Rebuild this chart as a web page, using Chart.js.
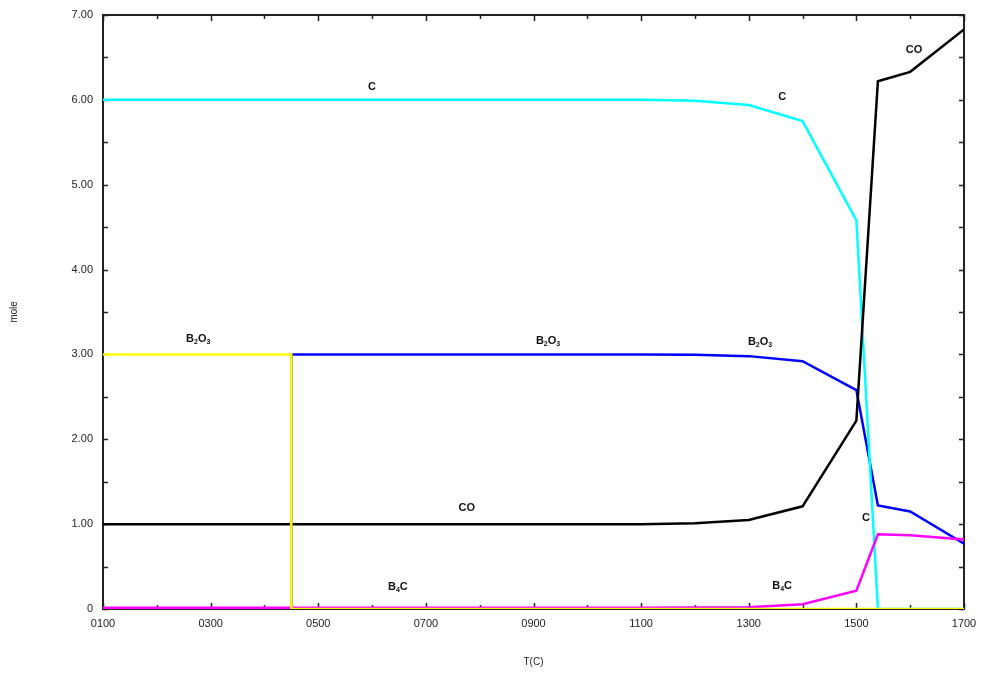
<!DOCTYPE html>
<html>
<head>
<meta charset="utf-8">
<script src="https://cdn.jsdelivr.net/npm/chart.js@4/dist/chart.umd.min.js"></script>
<style>
  html, body { margin: 0; padding: 0; background: #fff; }
  #wrap { width: 981px; height: 679px; }
</style>
</head>
<body>
<div id="wrap"><canvas id="chart" width="981" height="679"></canvas></div>
<script>
// temperatures (C); 450 appears twice for the B2O3 liquid -> solid jump
const temps = [100, 200, 300, 400, 450, 450, 500, 600, 700, 800, 900, 1000, 1100, 1200, 1300, 1400, 1500, 1540, 1600, 1700];

// mole values per species
const carbon   = [6, 6, 6, 6, 6, 6, 6, 6, 6, 6, 6, 6, 6, 5.99, 5.94, 5.75, 4.58, 0, 0, 0];
const b2o3Liq  = [3, 3, 3, 3, 3, 0, 0, 0, 0, 0, 0, 0, 0, 0, 0, 0, 0, 0, 0, 0];
const b2o3     = [0, 0, 0, 0, 0, 3, 3, 3, 3, 3, 3, 3, 3, 2.995, 2.98, 2.92, 2.58, 1.22, 1.15, 0.77];
const co       = [1, 1, 1, 1, 1, 1, 1, 1, 1, 1, 1, 1, 1, 1.01, 1.05, 1.21, 2.22, 6.22, 6.33, 6.83];
const b4c      = [0.015, 0.015, 0.015, 0.015, 0.015, 0.015, 0.015, 0.015, 0.015, 0.015, 0.015, 0.015, 0.015, 0.017, 0.02, 0.055, 0.215, 0.88, 0.87, 0.82];

// axis ticks
const xTickValues = [100, 300, 500, 700, 900, 1100, 1300, 1500, 1700];
const yTickValues = [0, 1, 2, 3, 4, 5, 6, 7];

// curve labels ("_n" = subscript n), anchored in data units
const labelText = ['C', 'C', 'CO', 'B_2O_3', 'B_2O_3', 'B_2O_3', 'CO', 'C', 'B_4C', 'B_4C'];
const labelT    = [600, 1362, 1607, 277, 927, 1321, 776, 1518, 648, 1362];
const labelMole = [6.15, 6.03, 6.59, 3.18, 3.16, 3.15, 1.19, 1.07, 0.26, 0.27];

const toPoints = (vals) => vals.map((v, i) => ({ x: temps[i], y: v }));

function lineSet(label, vals, color) {
  return {
    label,
    data: toPoints(vals),
    borderColor: color,
    backgroundColor: color,
    borderWidth: 2.5,
    pointRadius: 0,
    tension: 0,
    fill: false,
  };
}

// 枠線と内向きの目盛り
const framePlugin = {
  id: 'frame',
  beforeDatasetsDraw(chart) {
    const { ctx, chartArea: a, scales } = chart;
    ctx.save();
    ctx.strokeStyle = '#222';
    ctx.lineWidth = 2;
    ctx.strokeRect(a.left, a.top, a.right - a.left, a.bottom - a.top);
    ctx.lineWidth = 1.5;
    ctx.beginPath();
    for (let t = 100; t <= 1700; t += 100) {
      const px = Math.round(scales.x.getPixelForValue(t)) + 0.5;
      const len = (t - 100) % 200 === 0 ? 6 : 4;
      ctx.moveTo(px, a.bottom); ctx.lineTo(px, a.bottom - len);
      ctx.moveTo(px, a.top); ctx.lineTo(px, a.top + len);
    }
    for (let m = 0; m <= 7; m += 0.5) {
      const py = Math.round(scales.y.getPixelForValue(m)) + 0.5;
      ctx.moveTo(a.left, py); ctx.lineTo(a.left + 5, py);
      ctx.moveTo(a.right, py); ctx.lineTo(a.right - 5, py);
    }
    ctx.stroke();
    ctx.restore();
  },
  afterDatasetsDraw(chart) {
    const { ctx, scales } = chart;
    ctx.save();
    ctx.fillStyle = '#111';
    ctx.textBaseline = 'middle';
    labelText.forEach((txt, i) => {
      const parts = txt.split(/(_\d)/).filter(Boolean);
      const big = 'bold 11px "Liberation Sans", Arial, sans-serif';
      const small = 'bold 7px "Liberation Sans", Arial, sans-serif';
      let w = 0;
      parts.forEach((p) => {
        ctx.font = p[0] === '_' ? small : big;
        w += ctx.measureText(p[0] === '_' ? p.slice(1) : p).width;
      });
      let px = scales.x.getPixelForValue(labelT[i]) - w / 2;
      const py = scales.y.getPixelForValue(labelMole[i]);
      parts.forEach((p) => {
        const sub = p[0] === '_';
        const s = sub ? p.slice(1) : p;
        ctx.font = sub ? small : big;
        ctx.fillText(s, px, sub ? py + 3 : py);
        px += ctx.measureText(s).width;
      });
    });
    ctx.restore();
  },
};

new Chart(document.getElementById('chart'), {
  type: 'line',
  data: {
    datasets: [
      lineSet('B2O3(l)', b2o3Liq, '#ffff00'),
      lineSet('B4C', b4c, '#ff00ff'),
      lineSet('CO', co, '#000000'),
      lineSet('C', carbon, '#00ffff'),
      lineSet('B2O3', b2o3, '#0000ff'),
    ],
  },
  options: {
    responsive: false,
    animation: false,
    devicePixelRatio: 1,
    layout: { padding: { top: 15, right: 17, left: 0, bottom: 0 } },
    plugins: { legend: { display: false }, tooltip: { enabled: false } },
    scales: {
      x: {
        type: 'linear',
        min: 100,
        max: 1700,
        grid: { display: false, drawTicks: false },
        border: { display: false },
        afterBuildTicks: (s) => { s.ticks = xTickValues.map((v) => ({ value: v })); },
        afterFit: (s) => { s.height = 70; s.paddingLeft = 0; s.paddingRight = 0; },
        ticks: {
          color: '#222',
          padding: 8,
          maxRotation: 0,
          autoSkip: false,
          font: { family: '"Liberation Sans", Arial, sans-serif', size: 11 },
          callback: (v) => String(v).padStart(4, '0'),
        },
        title: {
          display: true,
          text: 'T(C)',
          color: '#222',
          padding: { top: 0, bottom: 11 },
          font: { family: '"Liberation Sans", Arial, sans-serif', size: 10 },
        },
      },
      y: {
        min: 0,
        max: 7,
        grid: { display: false, drawTicks: false },
        border: { display: false },
        afterBuildTicks: (s) => { s.ticks = yTickValues.map((v) => ({ value: v })); },
        afterFit: (s) => { s.width = 103; s.paddingTop = 0; s.paddingBottom = 0; },
        ticks: {
          color: '#222',
          padding: 10,
          font: { family: '"Liberation Sans", Arial, sans-serif', size: 11 },
          callback: (v) => (v === 0 ? '0' : v.toFixed(2)),
        },
        title: {
          display: true,
          text: 'mole',
          color: '#222',
          padding: { top: 8, bottom: 0 },
          font: { family: '"Liberation Sans", Arial, sans-serif', size: 10 },
        },
      },
    },
  },
  plugins: [framePlugin],
});
</script>
</body>
</html>
